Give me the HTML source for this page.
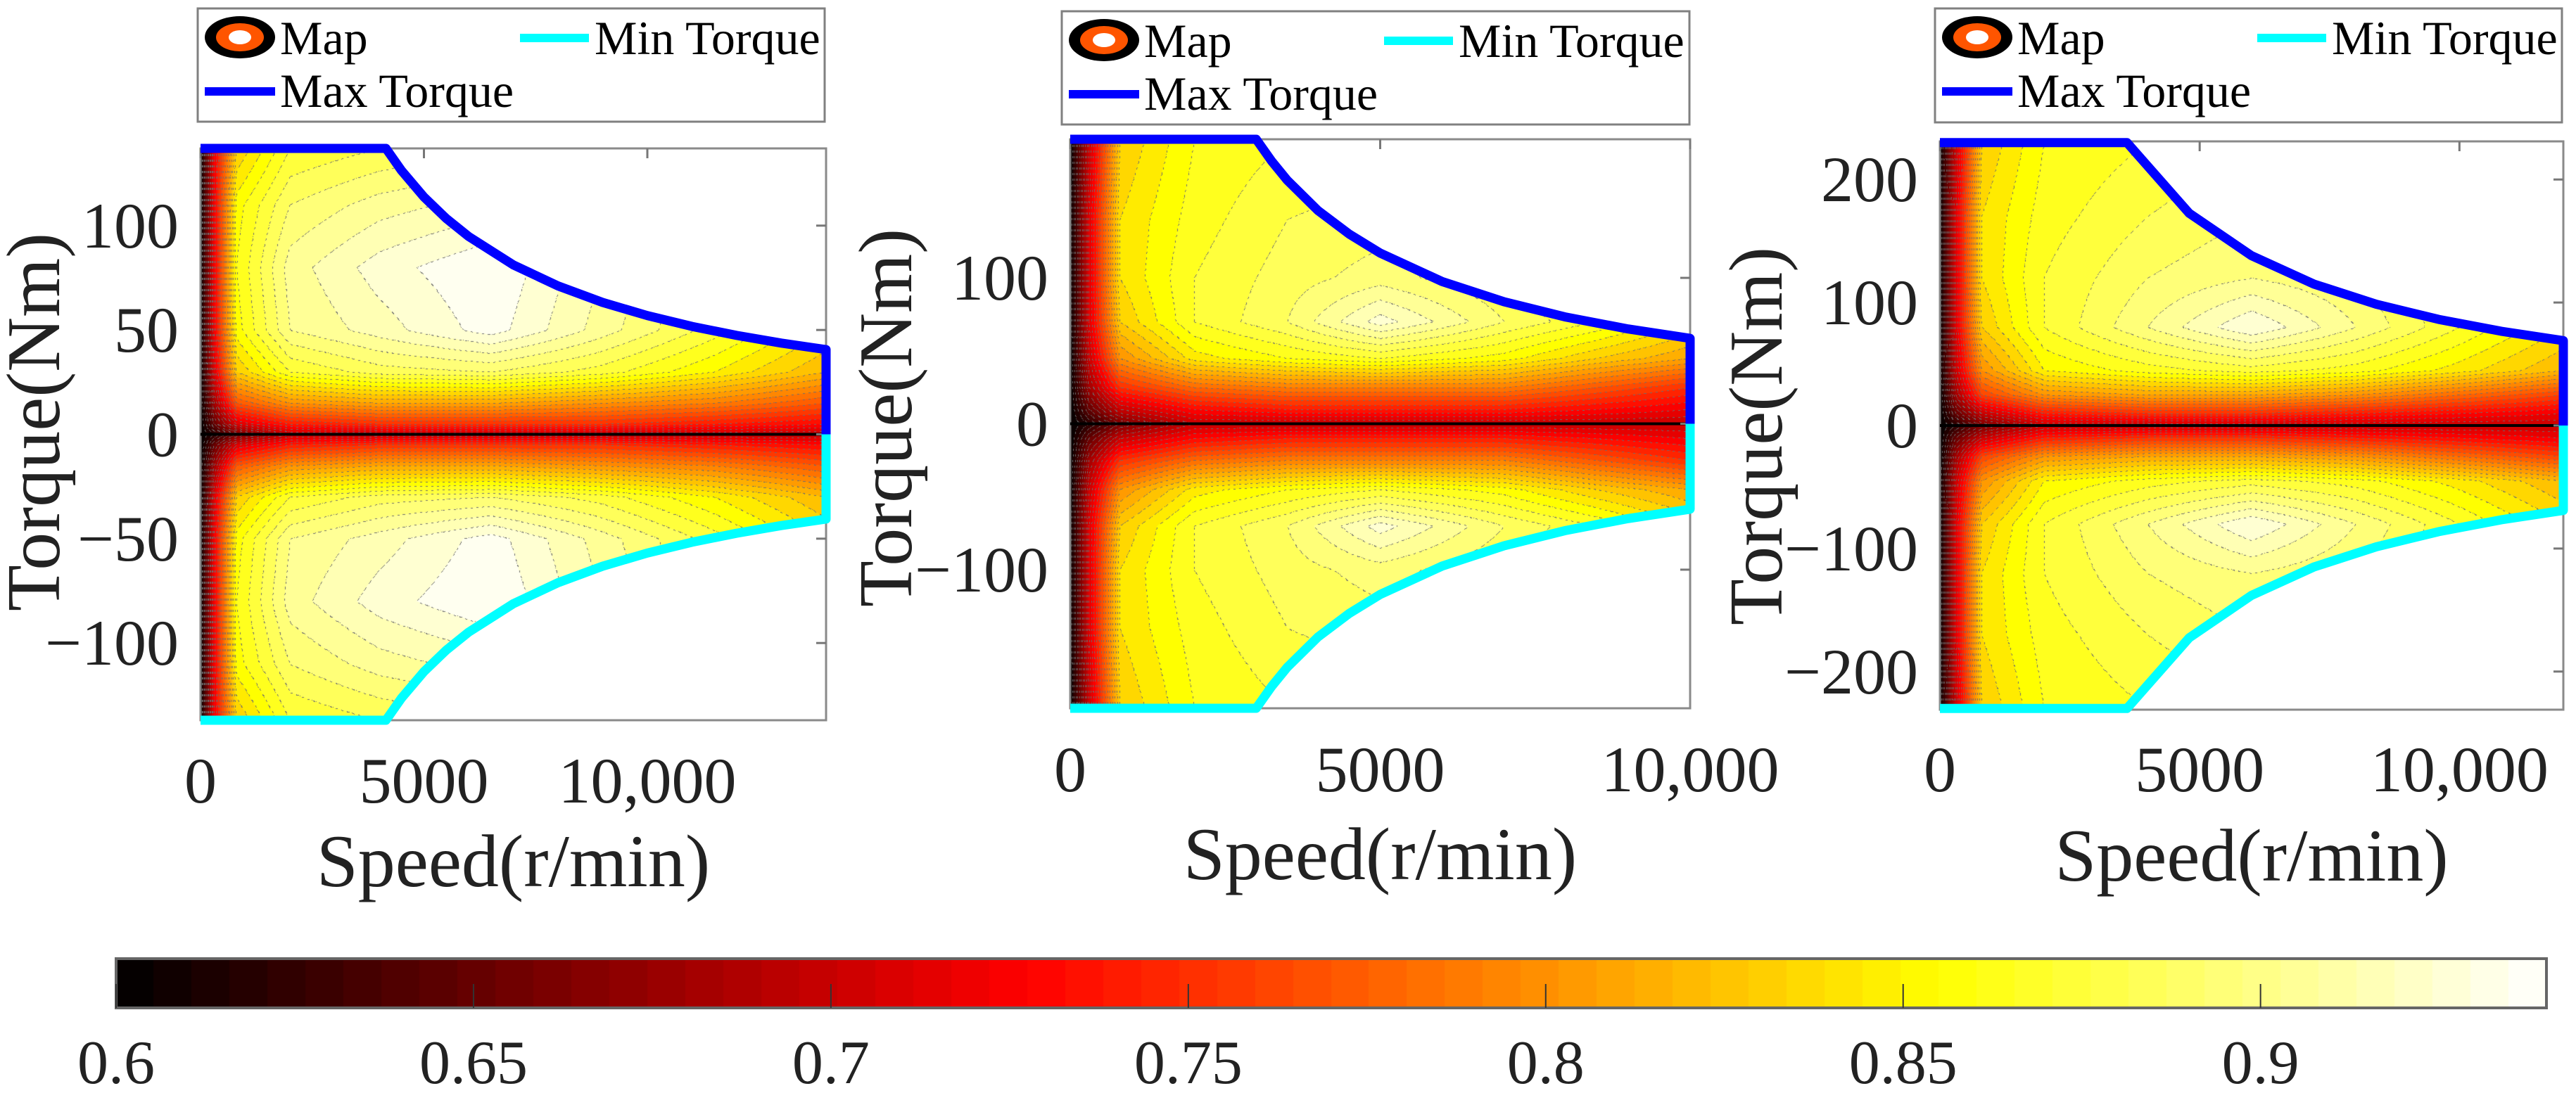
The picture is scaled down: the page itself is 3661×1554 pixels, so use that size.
<!DOCTYPE html>
<html><head><meta charset="utf-8">
<style>
html,body{margin:0;padding:0;background:#fff;}
#root{position:relative;width:3661px;height:1554px;overflow:hidden;background:#fff;font-family:"Liberation Serif","Times New Roman",Times,"DejaVu Serif",serif;}
canvas{position:absolute;}
svg{position:absolute;left:0;top:0;}
svg text{font-family:"Liberation Serif","Times New Roman",Times,"DejaVu Serif",serif;}
</style></head>
<body>
<div id="root">
<canvas id="c1"></canvas>
<canvas id="c2"></canvas>
<canvas id="c3"></canvas>
<canvas id="cb"></canvas>
<svg id="ov" width="3661" height="1554"></svg>
</div>
<script>
// ---------- data ----------
const p1Speeds = [0, 300, 800, 2000, 4000, 6500, 9000, 11500, 14000];
const p1Torques = [0, 5, 15, 30, 50, 80, 110, 137];
const p1Eff = [
 [0.60,0.62,0.66,0.70,0.70,0.70,0.70,0.70,0.70],
 [0.60,0.65,0.71,0.74,0.75,0.75,0.75,0.74,0.73],
 [0.60,0.68,0.77,0.80,0.81,0.81,0.80,0.79,0.77],
 [0.60,0.71,0.83,0.87,0.885,0.89,0.875,0.85,0.82],
 [0.60,0.72,0.855,0.90,0.915,0.935,0.905,0.875,0.84],
 [0.60,0.72,0.86,0.905,0.925,0.94,0.91,0.88,0.85],
 [0.60,0.72,0.855,0.89,0.905,0.915,0.90,0.88,0.85],
 [0.60,0.72,0.83,0.87,0.88,0.89,0.88,0.87,0.84]
];
const p1CurveSpeeds = [0,4150,4500,5000,5500,6000,7000,8000,9000,10000,11000,12000,13000,14000];
const p1CurveTorques = [137,137,126.3,113.7,103.4,94.8,81.2,71.1,63.2,56.9,51.7,47.4,43.7,40.6];

const p2Speeds = [0, 300, 800, 2000, 3500, 5000, 7000, 8500, 10000];
const p2Torques = [0, 10, 25, 45, 70, 100, 140, 195];
const p2Eff = [
 [0.60,0.62,0.66,0.70,0.70,0.70,0.70,0.70,0.70],
 [0.60,0.65,0.70,0.73,0.74,0.74,0.74,0.73,0.72],
 [0.60,0.68,0.75,0.78,0.79,0.79,0.79,0.77,0.75],
 [0.60,0.70,0.80,0.845,0.86,0.87,0.855,0.83,0.81],
 [0.60,0.71,0.83,0.87,0.89,0.925,0.89,0.87,0.84],
 [0.60,0.71,0.84,0.87,0.885,0.895,0.88,0.86,0.84],
 [0.60,0.71,0.84,0.865,0.88,0.885,0.87,0.85,0.83],
 [0.60,0.70,0.83,0.86,0.87,0.875,0.86,0.85,0.83]
];
const p2CurveSpeeds = [0,3000,3250,3500,4000,4500,5000,6000,7000,8000,9000,10000];
const p2CurveTorques = [195,195,180,167,146,130,117,97.5,83.6,73.1,65,58.5];

const p3Speeds = [0, 300, 800, 2000, 4000, 6000, 8000, 10000, 12000];
const p3Torques = [0, 10, 25, 45, 80, 120, 170, 230];
const p3Eff = [
 [0.60,0.62,0.66,0.70,0.70,0.70,0.70,0.70,0.70],
 [0.60,0.65,0.70,0.74,0.75,0.75,0.74,0.73,0.72],
 [0.60,0.68,0.76,0.80,0.81,0.81,0.80,0.78,0.76],
 [0.60,0.70,0.80,0.85,0.865,0.875,0.865,0.845,0.82],
 [0.60,0.71,0.83,0.87,0.90,0.93,0.90,0.87,0.84],
 [0.60,0.71,0.84,0.87,0.89,0.90,0.89,0.87,0.84],
 [0.60,0.71,0.84,0.865,0.88,0.89,0.88,0.86,0.84],
 [0.60,0.70,0.83,0.86,0.87,0.88,0.87,0.85,0.83]
];
const p3CurveSpeeds = [0,3600,4800,6000,7200,8400,9600,10800,12000];
const p3CurveTorques = [230,230,172.5,138,115,98.6,86.3,76.7,69];

const p1YTicks = [-100,-50,0,50,100];
const p2YTicks = [-100,0,100];
const p3YTicks = [-200,-100,0,100,200];
const xTicks = [0,5000,10000];
const xTickLabels = ["0","5000","10,000"];
const cbTicks = [0.6,0.65,0.7,0.75,0.8,0.85,0.9];
const cbTickLabels = ["0.6","0.65","0.7","0.75","0.8","0.85","0.9"];
const cbMin = 0.6, cbMax = 0.94;

// ---------- layout ----------
const panels = [
 {id:'c1', n:1, L:285, R:1174, T:211, B:1024, xmax:14000, ymax:137, sp:p1Speeds, tq:p1Torques, ef:p1Eff, cs:p1CurveSpeeds, ct:p1CurveTorques, yt:p1YTicks, xlabY:1110, labX:48, labY:600, legend:{L:281,T:12,R:1172,B:173}, xtitleY:1224},
 {id:'c2', n:2, L:1521, R:2402, T:198, B:1007, xmax:10000, ymax:195, sp:p2Speeds, tq:p2Torques, ef:p2Eff, cs:p2CurveSpeeds, ct:p2CurveTorques, yt:p2YTicks, xlabY:1094, labX:1259, labY:594, legend:{L:1509,T:16,R:2401,B:177}, xtitleY:1214},
 {id:'c3', n:3, L:2757, R:3643, T:201, B:1009, xmax:12000, ymax:231, sp:p3Speeds, tq:p3Torques, ef:p3Eff, cs:p3CurveSpeeds, ct:p3CurveTorques, yt:p3YTicks, xlabY:1094, labX:2496, labY:620, legend:{L:2750,T:12,R:3641,B:174}, xtitleY:1216}
];

function hot(t){
  t=Math.max(0,Math.min(1,t));
  const r=Math.min(1,t/0.375), g=Math.max(0,Math.min(1,(t-0.375)/0.375)), b=Math.max(0,Math.min(1,(t-0.75)/0.25));
  return [Math.round(r*255),Math.round(g*255),Math.round(b*255)];
}
function interp1(xs,ys,x){
  if(x<=xs[0]) return ys[0];
  for(let i=1;i<xs.length;i++){ if(x<=xs[i]){const f=(x-xs[i-1])/(xs[i]-xs[i-1]); return ys[i-1]+f*(ys[i]-ys[i-1]);} }
  return ys[ys.length-1];
}
function bilinear(p,s,t){
  const xs=p.sp, ys=p.tq;
  let i=0; while(i<xs.length-2 && s>xs[i+1]) i++;
  let j=0; while(j<ys.length-2 && t>ys[j+1]) j++;
  const fx=Math.max(0,Math.min(1,(s-xs[i])/(xs[i+1]-xs[i])));
  const fy=Math.max(0,Math.min(1,(t-ys[j])/(ys[j+1]-ys[j])));
  const a=p.ef[j][i], b=p.ef[j][i+1], c=p.ef[j+1][i], d=p.ef[j+1][i+1];
  return (a*(1-fx)+b*fx)*(1-fy)+(c*(1-fx)+d*fx)*fy;
}
function xs(p,s){return p.L+(s/p.xmax)*(p.R-p.L);}
function ys(p,t){return (p.T+p.B)/2 - t/p.ymax*(p.B-p.T)/2;}

panels.forEach(p=>{
  const cv=document.getElementById(p.id);
  const W=p.R-p.L, H=p.B-p.T;
  cv.width=W; cv.height=H; cv.style.left=p.L+'px'; cv.style.top=p.T+'px';
  const ctx=cv.getContext('2d');
  const img=ctx.createImageData(W,H);
  const lev=new Int16Array(W*H);
  const step=0.01;
  for(let y=0;y<H;y++){
    const t=((p.T+p.B)/2-(p.T+y+0.5))/((p.B-p.T)/2)*p.ymax;
    for(let x=0;x<W;x++){
      const s=(x+0.5)/W*p.xmax;
      const k=y*W+x;
      const tm=interp1(p.cs,p.ct,s);
      if(Math.abs(t)>tm){lev[k]=-1; img.data[k*4+3]=0; continue;}
      const v=bilinear(p,s,Math.abs(t));
      const q=Math.floor((v-cbMin)/step+1e-9);
      lev[k]=q;
      const c=hot((cbMin+q*step+step*0.5-cbMin)/(cbMax-cbMin));
      img.data[k*4]=c[0];img.data[k*4+1]=c[1];img.data[k*4+2]=c[2];img.data[k*4+3]=255;
    }
  }
  for(let y=1;y<H;y++){
    for(let x=1;x<W;x++){
      const k=y*W+x; const q=lev[k]; if(q<0) continue;
      const l=lev[k-1], u=lev[k-W];
      if((l>=0&&l!==q&&(y%8)<3)||(u>=0&&u!==q&&(x%8)<3)){
        img.data[k*4]=110;img.data[k*4+1]=110;img.data[k*4+2]=110;
      }
    }
  }
  ctx.putImageData(img,0,0);
});

(function(){
  const cv=document.getElementById('cb');
  const L=165,R=3619,T=1363,B=1433;
  cv.width=R-L; cv.height=B-T; cv.style.left=L+'px'; cv.style.top=T+'px';
  const ctx=cv.getContext('2d');
  const N=64;
  for(let i=0;i<N;i++){
    const c=hot((i+0.5)/N);
    ctx.fillStyle='rgb('+c.join(',')+')';
    ctx.fillRect(Math.floor(i*(R-L)/N),0,Math.ceil((R-L)/N)+1,B-T);
  }
})();

const NS='http://www.w3.org/2000/svg';
const ov=document.getElementById('ov');
function mk(tag,attrs,parent){const e=document.createElementNS(NS,tag);for(const k in attrs)e.setAttribute(k,attrs[k]);if(tag==='text')e.style.fontFamily='"Liberation Serif","Times New Roman",Times,"DejaVu Serif",serif';(parent||ov).appendChild(e);return e;}

panels.forEach(p=>{
  const g=mk('g',{});
  
  
  const box=mk('rect',{x:p.L,y:p.T,width:p.R-p.L,height:p.B-p.T,fill:'none',stroke:'#8a8a8a','stroke-width':3},g);
  
  
  const zl=mk('line',{x1:p.L,x2:p.R,y1:ys(p,0),y2:ys(p,0),stroke:'#000','stroke-width':4},g);
  
  
  p.yt.forEach(v=>{
    const y=ys(p,v);
    const tk=mk('line',{x1:p.R-14,x2:p.R,y1:y,y2:y,stroke:'#777','stroke-width':3},g);
    
    
    const tx=mk('text',{x:p.L-31,y:y+31,'text-anchor':'end','font-size':92,fill:'#222'},g);
    tx.textContent=(v<0?'\u2212':'')+Math.abs(v);
    
    
  });
  xTicks.forEach((v,i)=>{
    const x=xs(p,v);
    const tk=mk('line',{x1:x,x2:x,y1:p.T,y2:p.T+14,stroke:'#777','stroke-width':3},g);
    
    
    const tx=mk('text',{x:x,y:p.xlabY+31,'text-anchor':'middle','font-size':92,fill:'#222'},g);
    tx.textContent=xTickLabels[i];
    
    
  });
  let up='',dn='';
  p.cs.forEach((s,i)=>{up+=(i?'L':'M')+xs(p,s).toFixed(1)+' '+ys(p,p.ct[i]).toFixed(1)+' ';dn+=(i?'L':'M')+xs(p,s).toFixed(1)+' '+ys(p,-p.ct[i]).toFixed(1)+' ';});
  const last=p.cs[p.cs.length-1];
  up+='L'+xs(p,last).toFixed(1)+' '+ys(p,0);
  dn+='L'+xs(p,last).toFixed(1)+' '+ys(p,0);
  const mn=mk('path',{d:dn,fill:'none',stroke:'#00ffff','stroke-width':13,'stroke-linejoin':'round'},g);
  
  
  const mx=mk('path',{d:up,fill:'none',stroke:'#0000ff','stroke-width':13,'stroke-linejoin':'round'},g);
  
  
  const xt=mk('text',{x:(p.L+p.R)/2,y:p.xtitleY+36,'text-anchor':'middle','font-size':106,fill:'#222'},g);
  xt.textContent='Speed(r/min)';
  
  
  const yt=mk('text',{x:0,y:0,'text-anchor':'middle','font-size':108,fill:'#222',transform:'translate('+(p.labX+36)+','+p.labY+') rotate(-90)'},g);
  yt.textContent='Torque(Nm)';
  
  
  const lg=p.legend;
  const lgg=mk('g',{},g);
  
  
  mk('rect',{x:lg.L,y:lg.T,width:lg.R-lg.L,height:lg.B-lg.T,fill:'#fff',stroke:'#808080','stroke-width':3},lgg);
  const ox=lg.L-281, oy=lg.T-12;
  const ic=mk('g',{},lgg);
  
  
  mk('ellipse',{cx:341+ox,cy:53+oy,rx:50,ry:30,fill:'#000'},ic);
  mk('ellipse',{cx:341+ox,cy:53+oy,rx:34,ry:20,fill:'#ff5500'},ic);
  mk('ellipse',{cx:341+ox,cy:53+oy,rx:16,ry:10,fill:'#fff'},ic);
  const t1=mk('text',{x:398+ox,y:77+oy,'font-size':68,fill:'#000'},lgg);
  t1.textContent='Map';
  
  
  const l2=mk('line',{x1:739+ox,x2:837+ox,y1:54+oy,y2:54+oy,stroke:'#00ffff','stroke-width':12},lgg);
  
  
  const t2=mk('text',{x:845+ox,y:77+oy,'font-size':68,fill:'#000'},lgg);
  t2.textContent='Min Torque';
  
  
  const l3=mk('line',{x1:291+ox,x2:391+ox,y1:130+oy,y2:130+oy,stroke:'#0000ff','stroke-width':12},lgg);
  
  
  const t3=mk('text',{x:398+ox,y:152+oy,'font-size':68,fill:'#000'},lgg);
  t3.textContent='Max Torque';
  
  
});

(function(){
  const L=165,R=3619,T=1363,B=1433;
  const g=mk('g',{});
  
  
  const fr=mk('rect',{x:L,y:T,width:R-L,height:B-T,fill:'none',stroke:'#666','stroke-width':4},g);
  
  
  cbTicks.forEach((v,i)=>{
    const x=L+(v-cbMin)/(cbMax-cbMin)*(R-L);
    const tk=mk('line',{x1:x,x2:x,y1:B-34,y2:B,stroke:'#333','stroke-width':2},g);
    
    
    const tx=mk('text',{x:x,y:1540,'text-anchor':'middle','font-size':88,fill:'#222'},g);
    tx.textContent=cbTickLabels[i];
    
    
  });
})();
</script>
</body></html>
